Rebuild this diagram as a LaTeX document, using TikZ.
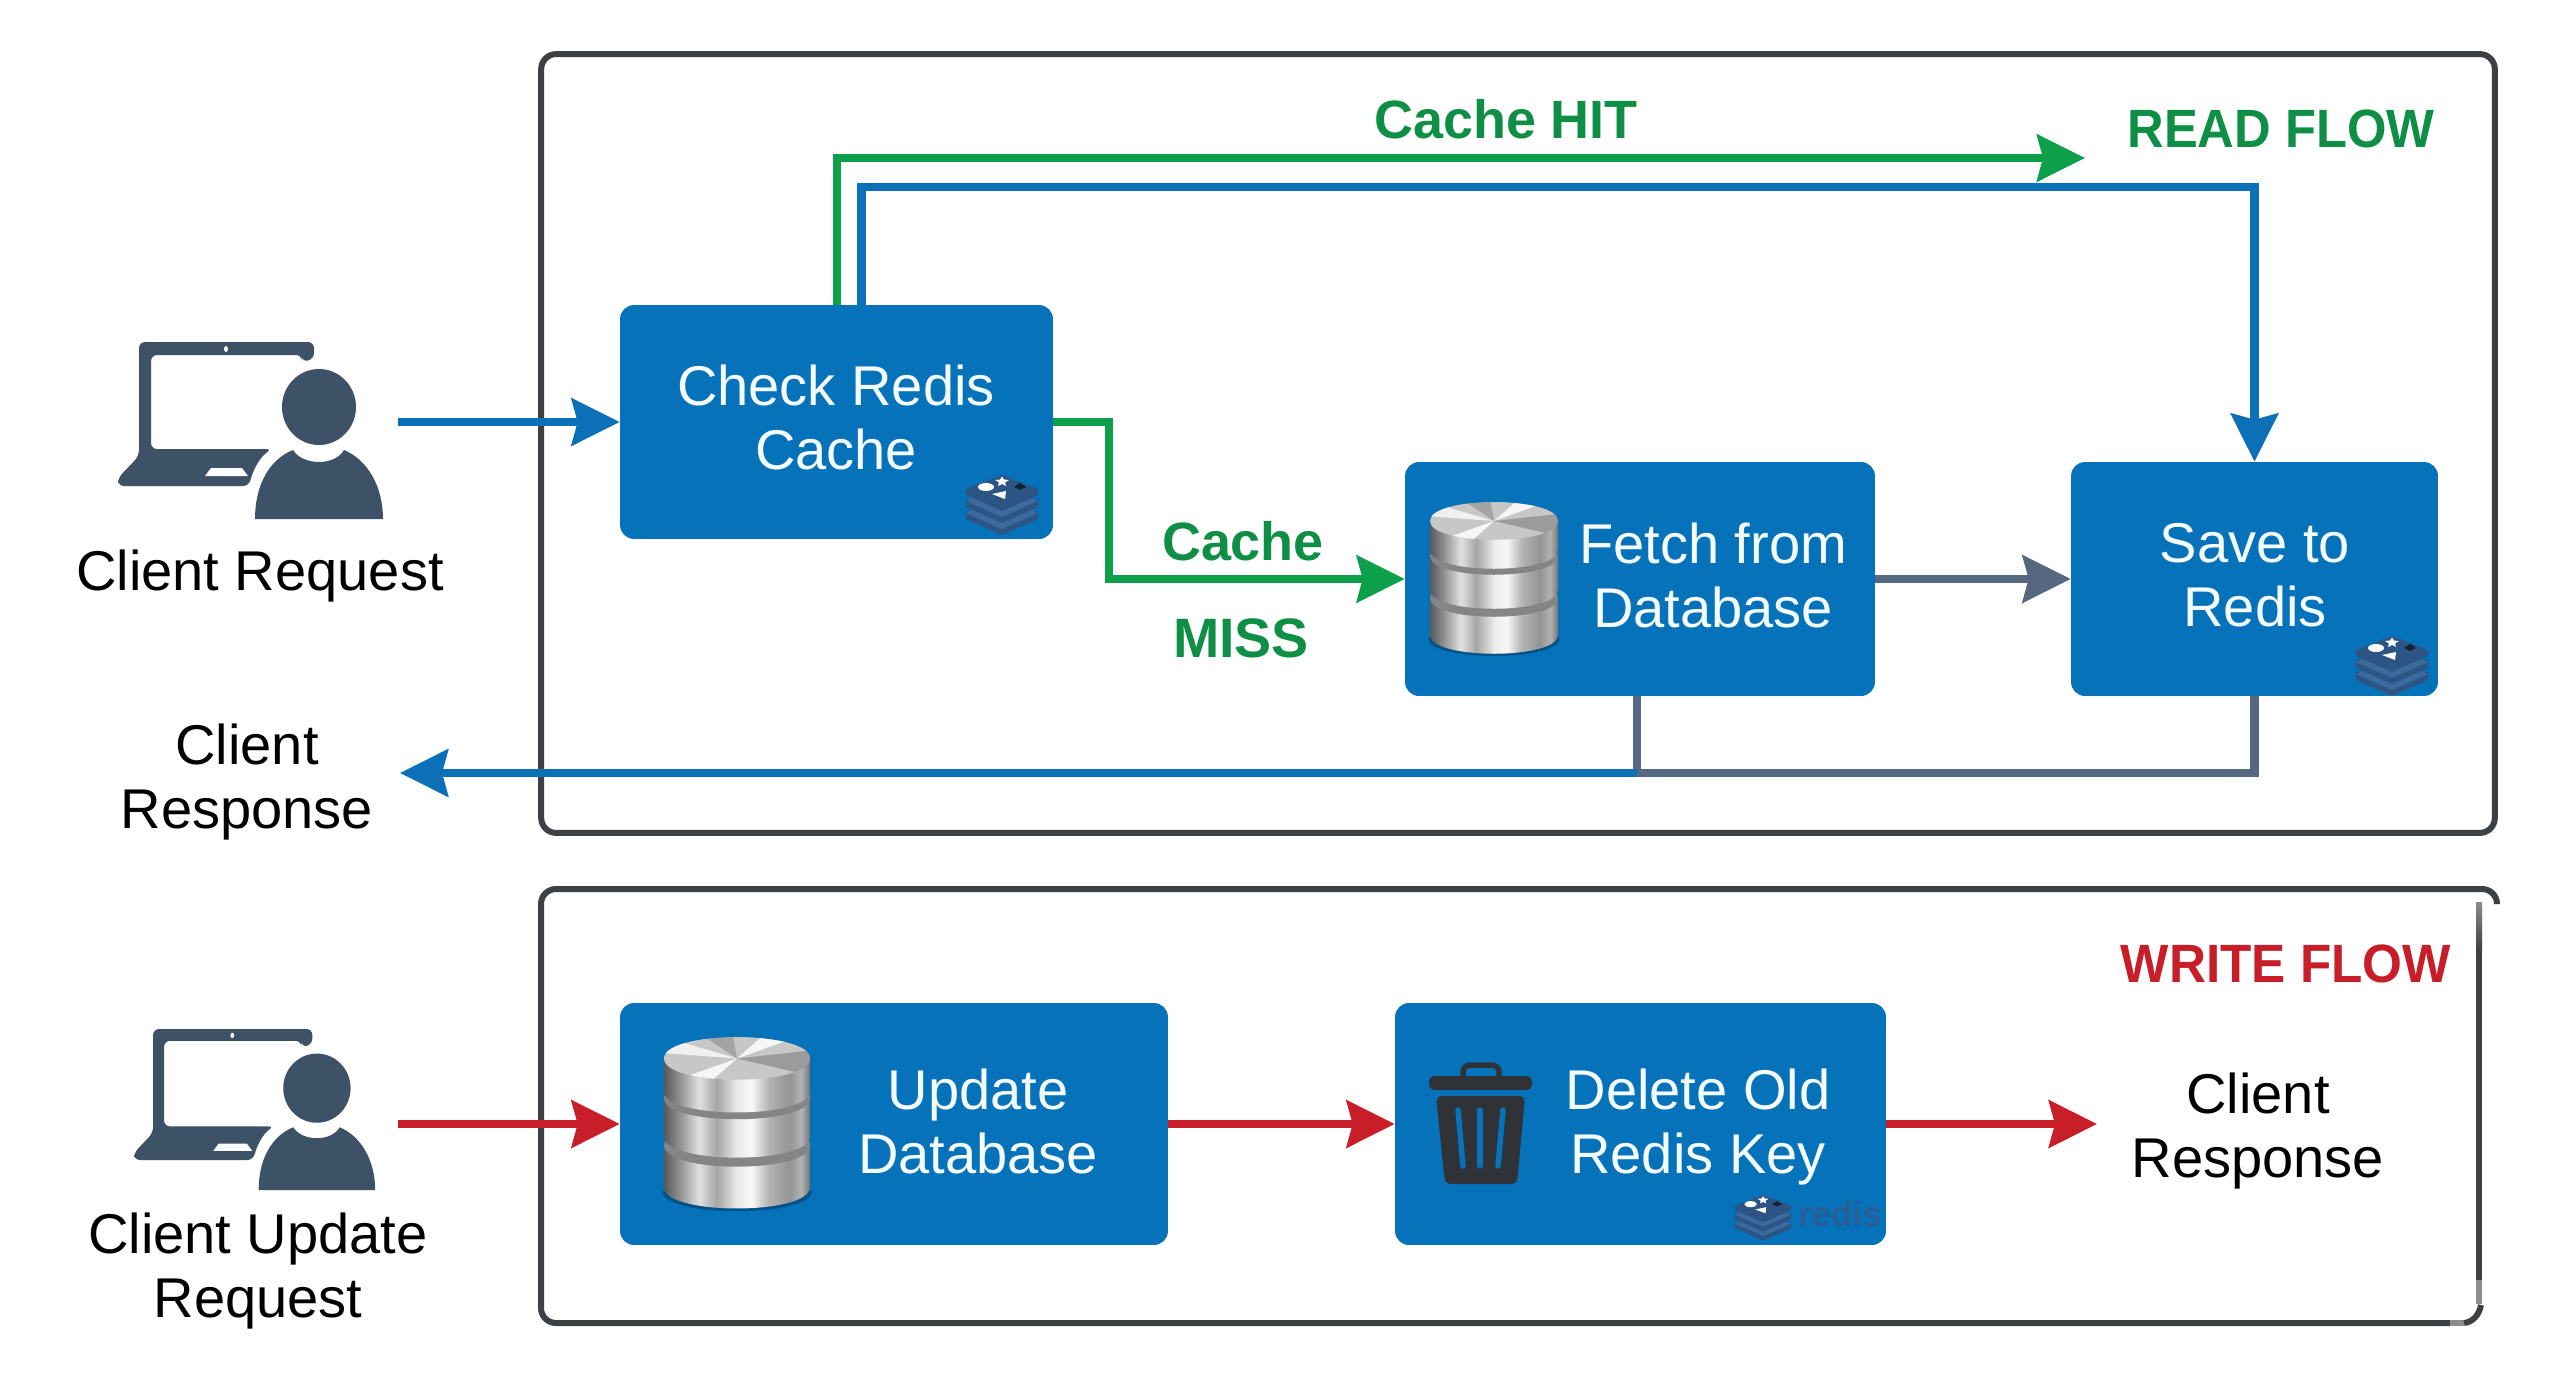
\documentclass[tikz,border=0pt]{standalone}
\usepackage{graphicx}
\usepackage{fontspec}
\setmainfont{Liberation Sans}
\usetikzlibrary{arrows.meta,calc}
\definecolor{boxblue}{HTML}{0672BA}
\definecolor{flowblue}{HTML}{0B70B8}
\definecolor{flowgreen}{HTML}{0E9F4A}
\definecolor{labelgreen}{HTML}{0E8F45}
\definecolor{flowgray}{HTML}{566880}
\definecolor{flowred}{HTML}{C81E2A}
\definecolor{framegray}{HTML}{3F4045}
\definecolor{iconslate}{HTML}{3D5266}
\definecolor{trashdark}{HTML}{2F3338}
\definecolor{redisdark}{HTML}{2C5485}
\definecolor{redislight}{HTML}{3B6A9E}
\definecolor{redisword}{HTML}{2A5E97}
\pgfdeclarehorizontalshading{metalshade}{100bp}{color(0bp)=(black!65);color(25bp)=(black!65);color(30bp)=(black!45);color(37bp)=(black!12);color(43bp)=(black!35);color(50bp)=(black!8);color(55bp)=(black!3);color(61bp)=(black!30);color(68bp)=(black!42);color(72bp)=(black!30);color(75bp)=(black!55);color(100bp)=(black!55)}
\tikzset{
  flowbox/.style={fill=boxblue,rounded corners=2.8mm,inner sep=0pt,draw=none},
  boxtext/.style={text=white!96!cyan,align=center,font=\fontsize{31.9pt}{36.4pt}\selectfont,inner sep=0pt},
  plaintext/.style={text=black,align=center,font=\fontsize{31.9pt}{36.4pt}\selectfont,inner sep=0pt},
  flowtitle/.style={font=\fontsize{30.7pt}{34pt}\selectfont\bfseries,inner sep=0pt},
  tip/.style={-{Stealth[length=9.6mm,width=9.4mm,inset=1.2mm]}},
  blueflow/.style={draw=flowblue,line width=1.7mm},
  greenflow/.style={draw=flowgreen,line width=1.6mm},
  grayflow/.style={draw=flowgray,line width=1.7mm},
  redflow/.style={draw=flowred,line width=1.7mm},
  frameline/.style={draw=framegray,line width=1.2mm},
  clienticon/.pic={
    \fill[iconslate,rounded corners=1.2mm] (21,0) -- (196,0) -- (196,17) -- (184,20) -- (184,13) -- (33,13) -- (33,107) -- (154,107) .. controls (142,115) and (135,128) .. (131,144) -- (0,144) -- (0,136) -- (21,114) -- cycle;
    \fill[white] (93,126) -- (124,126) -- (130,134) -- (87,134) -- cycle;
    \fill[white] (108,7) ellipse [x radius=2,y radius=3];
    \fill[iconslate] (201,65) ellipse [x radius=37,y radius=38];
    \fill[iconslate] (137,177) .. controls (137,145) and (150,118) .. (175,108) .. controls (185,124) and (217,124) .. (226,108) .. controls (250,118) and (265,145) .. (265,177) -- cycle;
  },
  redisicon/.pic={
    \fill[redisdark] (0,36) -- (0,44) -- (36,60) -- (72,44) -- (72,36) -- cycle;
    \fill[redislight] (0,38) -- (36,54) -- (72,38) -- (36,22) -- cycle;
    \fill[redisdark] (0,24) -- (0,32) -- (36,48) -- (72,32) -- (72,24) -- cycle;
    \fill[redislight] (0,26) -- (36,42) -- (72,26) -- (36,10) -- cycle;
    \fill[redisdark] (0,14) -- (0,20) -- (36,36) -- (72,20) -- (72,14) -- (36,0) -- cycle;
    \fill[white] (20,12) ellipse [x radius=8,y radius=4];
    \fill[white] (36,1.5) -- (38,4.5) -- (43,5) -- (39,7.5) -- (40,11) -- (36,9) -- (32,11) -- (33,7.5) -- (29,5) -- (34,4.5) -- cycle;
    \fill[white] (26,19) -- (40,16) -- (39,24) -- cycle;
    \fill[black!60!redisdark] (48,12) -- (54,8) -- (60,12) -- (54,15) -- cycle;
  },
  dbstack/.pic={
    \fill[black!70!boxblue,opacity=.4] (-2,136) .. controls (-2,160) and (130,160) .. (130,136) -- cycle;
    \shade[shading=metalshade] (0,96) -- (0,133) .. controls (0,158) and (128,158) .. (128,133) -- (128,96) .. controls (128,71) and (0,71) .. cycle;
    \fill[black!48] (0,96) .. controls (0,121) and (128,121) .. (128,96) .. controls (128,71) and (0,71) .. cycle;
    \shade[shading=metalshade] (0,54) -- (0,88) .. controls (0,113) and (128,113) .. (128,88) -- (128,54) .. controls (128,29) and (0,29) .. cycle;
    \fill[black!48] (0,54) .. controls (0,79) and (128,79) .. (128,54) .. controls (128,29) and (0,29) .. cycle;
    \shade[shading=metalshade] (0,19) -- (0,48) .. controls (0,73) and (128,73) .. (128,48) -- (128,19) .. controls (128,-6) and (0,-6) .. cycle;
    \begin{scope}
      \clip (0,19) .. controls (0,44) and (128,44) .. (128,19) .. controls (128,-6) and (0,-6) .. cycle;
      \fill[black!22] (0,-2) rectangle (128,40);
      \fill[white,opacity=.75] (64,19) -- (0,0) -- (-4,14) -- cycle;
      \fill[white,opacity=.85] (64,19) -- (90,-4) -- (128,-4) -- cycle;
      \fill[white,opacity=.85] (64,19) -- (38,42) -- (0,42) -- cycle;
      \fill[black,opacity=.22] (64,19) -- (128,12) -- (128,34) -- cycle;
      \fill[black,opacity=.18] (64,19) -- (30,-4) -- (60,-4) -- cycle;
    \end{scope}
  },
  trashicon/.pic={
    \draw[trashdark,line width=1.1mm,rounded corners=1.4mm] (34,14) -- (34,3) -- (70,3) -- (70,14);
    \fill[trashdark,rounded corners=1.2mm] (0,14) rectangle (103,28);
    \fill[trashdark,rounded corners=1.2mm] (7,34) -- (96,34) -- (88,122) -- (16,122) -- cycle;
    \draw[boxblue,line width=1.1mm,line cap=round] (29,48) -- (34,104);
    \draw[boxblue,line width=1.1mm,line cap=round] (51,48) -- (51,104);
    \draw[boxblue,line width=1.1mm,line cap=round] (74,48) -- (69,104);
  }
}
\begin{document}
\begin{tikzpicture}[x=0.02cm,y=-0.02cm]
\useasboundingbox (0,0) rectangle (2560,1396);
\fill[white] (0,0) rectangle (2560,1396);
% frames
\node[frameline,rounded corners=3mm,inner sep=0pt,minimum width=39.08cm,minimum height=15.58cm] (readframe) at (1518,443.5) {};
\draw[frameline,rounded corners=3mm] (2497,904) -- (2497,889) -- (541,889) -- (541,1323) -- (2450,1323);
\draw[frameline,line cap=butt] (2479,950) -- (2479,1280);
\shade[top color=black!45,bottom color=framegray] (2476,902) rectangle (2482,950);
\fill[black!45] (2476,1280) rectangle (2482,1304);
\draw[black!45,line width=1.2mm] (2450,1323) -- (2464,1323);
\draw[frameline] (2464,1323) .. controls (2473,1322) and (2479,1315) .. (2481,1305);
% boxes
\node[flowbox,minimum width=8.66cm,minimum height=4.68cm] (check) at (836.5,422) {};
\node[flowbox,minimum width=9.40cm,minimum height=4.68cm] (fetch) at (1640,579) {};
\node[flowbox,minimum width=7.34cm,minimum height=4.68cm] (save) at (2254.5,579) {};
\node[flowbox,minimum width=10.96cm,minimum height=4.84cm] (update) at (894,1124) {};
\node[flowbox,minimum width=9.82cm,minimum height=4.84cm] (delete) at (1640.5,1124) {};
% box texts
\node[boxtext] (checktxt) at (836,417) {Check Redis\\Cache};
\node[boxtext] (fetchtxt) at (1713,575) {Fetch from\\Database};
\node[boxtext] (savetxt) at (2255,575) {Save to\\Redis};
\node[boxtext] (updatetxt) at (978,1121) {Update\\Database};
\node[boxtext] (deletetxt) at (1698,1127) {Delete Old\\Redis Key};
% plain labels
\node[plaintext] (reqtxt) at (260,576) {Client Request};
\node[plaintext] (resptxt) at (247,782) {Client\\Response};
\node[plaintext] (updreqtxt) at (258,1271) {Client Update\\Request};
\node[plaintext] (resp2txt) at (2258,1131) {Client\\Response};
\node[flowtitle,text=labelgreen] (hittxt) at (1506,119) {Cache HIT};
\node[flowtitle,text=labelgreen] (cachetxt) at (1243,541) {Cache};
\node[flowtitle,text=labelgreen] (misstxt) at (1241,638) {\scalebox{1.03}{MISS}};
\node[flowtitle,text=labelgreen] (readtxt) at (2281,129) {\scalebox{.94}[1]{READ FLOW}};
\node[flowtitle,text=flowred] (writetxt) at (2286,964) {\scalebox{.95}[1]{WRITE FLOW}};
\node[font=\fontsize{20pt}{22pt}\selectfont\bfseries,text=redisword,inner sep=0pt] (redistxt) at (1840,1214) {redis};
% icons
\pic (client1) at (118,342) {clienticon};
\pic[scale=.91] (client2) at (134,1029) {clienticon};
\pic (redis1) at (966,475) {redisicon};
\pic (redis2) at (2356,636) {redisicon};
\pic[xscale=.78,yscale=.76] (redis3) at (1735,1195) {redisicon};
\pic (db1) at (1430,502) {dbstack};
\pic[xscale=1.14,yscale=1.13] (db2) at (664,1037) {dbstack};
\pic (trash) at (1429,1062) {trashicon};
% connectors
\coordinate (reqstart) at (398,422);
\coordinate (hitend) at (2085,158);
\coordinate (savetop) at (2254.5,187);
\coordinate (misscorner) at (1109,422);
\coordinate (join) at ($(fetch.south |- 0,773)+(-3,0)$);
\coordinate (joinup) at ($(fetch.south)+(-3,0)$);
\coordinate (respend) at (400,773);
\coordinate (wstart) at (398,1124);
\coordinate (wend) at (2097,1124);
\draw[blueflow,tip] (reqstart) -- (check.west);
\draw[greenflow,tip] (check.north) |- (hitend);
\draw[blueflow,tip] ($(check.north)+(25,0)$) |- (savetop) -- (save.north);
\draw[greenflow,tip] (check.east) -- (misscorner) |- (fetch.west);
\draw[grayflow,tip] (fetch.east) -- (save.west);
\draw[grayflow] (save.south) |- (join) -- (joinup);
\draw[blueflow,tip] (join) -- (respend);
\draw[redflow,tip] (wstart) -- (update.west);
\draw[redflow,tip] (update.east) -- (delete.west);
\draw[redflow,tip] (delete.east) -- (wend);
\end{tikzpicture}
\end{document}
